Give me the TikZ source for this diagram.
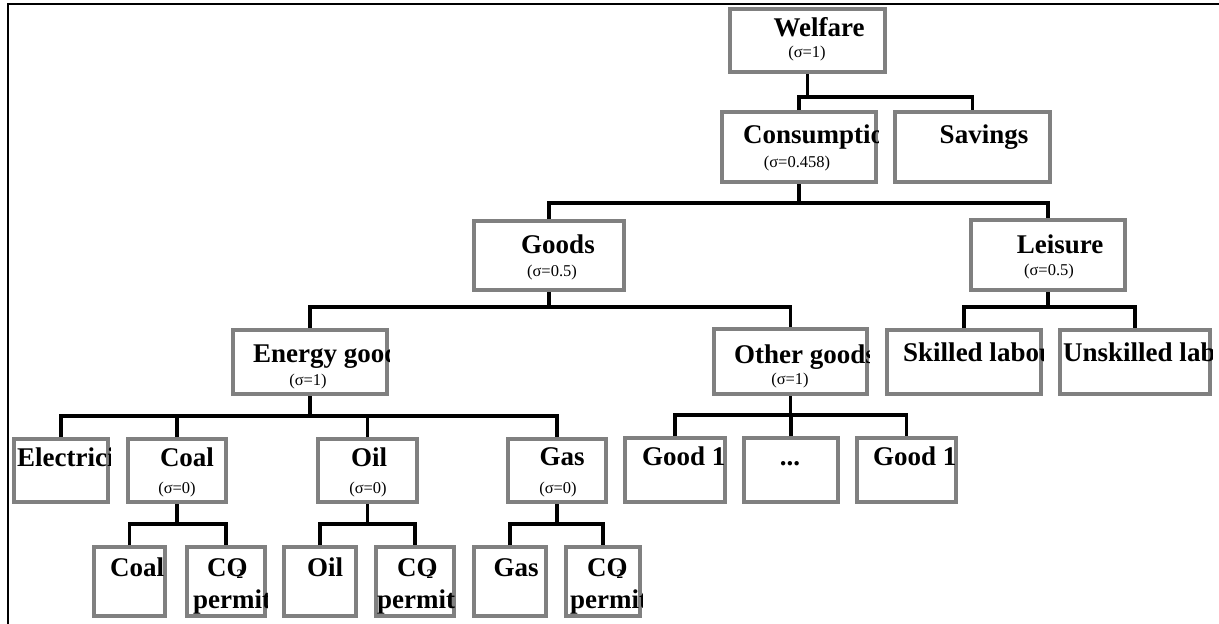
\documentclass[tikz,border=0pt]{standalone}
\usepackage{fontspec}
\setmainfont{Liberation Serif}
\definecolor{boxgray}{HTML}{808080}
\tikzset{
  box/.style={draw=boxgray, line width=4pt, fill=white, inner sep=0pt, outer sep=2pt, rectangle},
  conn/.style={draw=black, line width=3.6pt},
  frameline/.style={draw=black, line width=2.4pt},
  ttl/.style={inner sep=0pt, font=\fontsize{27}{27}\selectfont\bfseries},
  sig/.style={inner sep=0pt, font=\fontsize{16.5}{16.5}\selectfont},
}
\newcommand\bx[5]{\node[box, minimum width={(#4)-(#2)-4}, minimum height={(#5)-(#3)-4}] (#1) at ({((#2)+(#4))/2},{((#3)+(#5))/2}) {};}
\newcommand\inbox[2]{\begin{scope}\clip (#1.south west) rectangle (#1.north east); #2 \end{scope}}
\newcommand\cotwo{CO\kern-11pt\raisebox{-2pt}{\fontsize{13}{13}\selectfont 2}}
\begin{document}
\begin{tikzpicture}[x=1pt, y=-1pt]
\useasboundingbox (0,0) rectangle (1219,624);
\draw[frameline] (8,624) -- (8,4) -- (1219,4);
% boxes
\bx{welfare}{728}{7}{887}{74}
\bx{cons}{720}{110}{878}{184}
\bx{sav}{893}{110}{1052}{184}
\bx{goods}{472}{219}{626}{292}
\bx{leis}{969}{218}{1127}{292}
\bx{energy}{231}{328}{389}{396}
\bx{other}{712}{327}{869}{396}
\bx{skilled}{885}{328}{1043}{396}
\bx{unsk}{1058}{328}{1212}{396}
\bx{elec}{12}{437}{110}{504}
\bx{coal}{126}{437}{228}{504}
\bx{oil}{316}{437}{419}{504}
\bx{gas}{506}{437}{608}{504}
\bx{gone}{623}{436}{727}{504}
\bx{gdots}{742}{436}{840}{504}
\bx{gtwo}{855}{436}{958}{504}
\bx{coalL}{92}{545}{167}{618}
\bx{coalP}{185}{545}{267}{618}
\bx{oilL}{282}{545}{358}{618}
\bx{oilP}{374}{545}{456}{618}
\bx{gasL}{472}{545}{548}{618}
\bx{gasP}{564}{545}{642}{618}
% junction coordinates
\coordinate (jw) at (806,97);
\coordinate (jc) at (798,203);
\coordinate (jg) at (548,307);
\coordinate (jl) at (1050,307);
\coordinate (je) at (307,416);
\coordinate (jo) at (789,415);
\coordinate (jcoal) at (177,524);
\coordinate (joil) at (367,524);
\coordinate (jgas) at (557,524);
% connectors
\draw[conn] (welfare.south) -- (welfare.south |- jw);
\draw[conn] (cons.north) |- (jw) -| (sav.north);
\draw[conn] (cons.south) -- (cons.south |- jc);
\draw[conn] (goods.north) |- (jc) -| (leis.north);
\draw[conn] (goods.south) -- (goods.south |- jg);
\draw[conn] (energy.north) |- (jg) -| (other.north);
\draw[conn] (leis.south) -- (leis.south |- jl);
\draw[conn] (skilled.north) |- (jl) -| (unsk.north);
\draw[conn] (energy.south) -- (energy.south |- je);
\draw[conn] (elec.north) |- (je) -| (gas.north);
\draw[conn] (coal.north) -- (coal.north |- je);
\draw[conn] (oil.north) -- (oil.north |- je);
\draw[conn] (other.south) -- (other.south |- jo);
\draw[conn] (gone.north) |- (jo) -| (gtwo.north);
\draw[conn] (gdots.north) -- (gdots.north |- jo);
\draw[conn] (coal.south) -- (coal.south |- jcoal);
\draw[conn] (coalL.north) |- (jcoal) -| (coalP.north);
\draw[conn] (oil.south) -- (oil.south |- joil);
\draw[conn] (oilL.north) |- (joil) -| (oilP.north);
\draw[conn] (gas.south) -- (gas.south |- jgas);
\draw[conn] (gasL.north) |- (jgas) -| (gasP.north);
% texts
\inbox{welfare}{\node[ttl, anchor=base] (t-welfare) at (819,36) {Welfare};
  \node[sig, anchor=base] (s-welfare) at (807,57) {(σ=1)};}
\inbox{cons}{\node[ttl, anchor=base west] (t-cons) at (743,143) {Consumption};
  \node[sig, anchor=base] (s-cons) at (797,167) {(σ=0.458)};}
\inbox{sav}{\node[ttl, anchor=base] (t-sav) at (984,143) {Savings};}
\inbox{goods}{\node[ttl, anchor=base] (t-goods) at (558,253) {Goods};
  \node[sig, anchor=base] (s-goods) at (552,276) {(σ=0.5)};}
\inbox{leis}{\node[ttl, anchor=base] (t-leis) at (1060,253) {Leisure};
  \node[sig, anchor=base] (s-leis) at (1049,275) {(σ=0.5)};}
\inbox{energy}{\node[ttl, anchor=base west] (t-energy) at (253,362) {Energy goods};
  \node[sig, anchor=base] (s-energy) at (308,385) {(σ=1)};}
\inbox{other}{\node[ttl, anchor=base west] (t-other) at (734,363) {Other goods};
  \node[sig, anchor=base] (s-other) at (790,384) {(σ=1)};}
\inbox{skilled}{\node[ttl, anchor=base west] (t-skilled) at (903,361) {Skilled labour};}
\inbox{unsk}{\node[ttl, anchor=base west] (t-unsk) at (1063,361) {Unskilled labour};}
\inbox{elec}{\node[ttl, anchor=base west] (t-elec) at (17,466) {Electricity};}
\inbox{coal}{\node[ttl, anchor=base] (t-coal) at (187,466) {Coal};
  \node[sig, anchor=base] (s-coal) at (177,493) {(σ=0)};}
\inbox{oil}{\node[ttl, anchor=base] (t-oil) at (369,466) {Oil};
  \node[sig, anchor=base] (s-oil) at (368,493) {(σ=0)};}
\inbox{gas}{\node[ttl, anchor=base] (t-gas) at (562,465) {Gas};
  \node[sig, anchor=base] (s-gas) at (558,493) {(σ=0)};}
\inbox{gone}{\node[ttl, anchor=base west] (t-gone) at (642,465) {Good 1};}
\inbox{gdots}{\node[ttl, anchor=base] (t-gdots) at (790,465) {...};}
\inbox{gtwo}{\node[ttl, anchor=base west] (t-gtwo) at (873,465) {Good 1};}
\inbox{coalL}{\node[ttl, anchor=base west] (t-coalL) at (110,576) {Coal};}
\inbox{coalP}{\node[ttl, anchor=base west] (t-coalP) at (207,576) {\cotwo};
  \node[ttl, anchor=base west] (p-coalP) at (193,608) {permit};}
\inbox{oilL}{\node[ttl, anchor=base] (t-oilL) at (325,576) {Oil};}
\inbox{oilP}{\node[ttl, anchor=base west] (t-oilP) at (397,576) {\cotwo};
  \node[ttl, anchor=base west] (p-oilP) at (377,608) {permit};}
\inbox{gasL}{\node[ttl, anchor=base] (t-gasL) at (516,576) {Gas};}
\inbox{gasP}{\node[ttl, anchor=base west] (t-gasP) at (587,576) {\cotwo};
  \node[ttl, anchor=base west] (p-gasP) at (570,608) {permit};}
\end{tikzpicture}
\end{document}
